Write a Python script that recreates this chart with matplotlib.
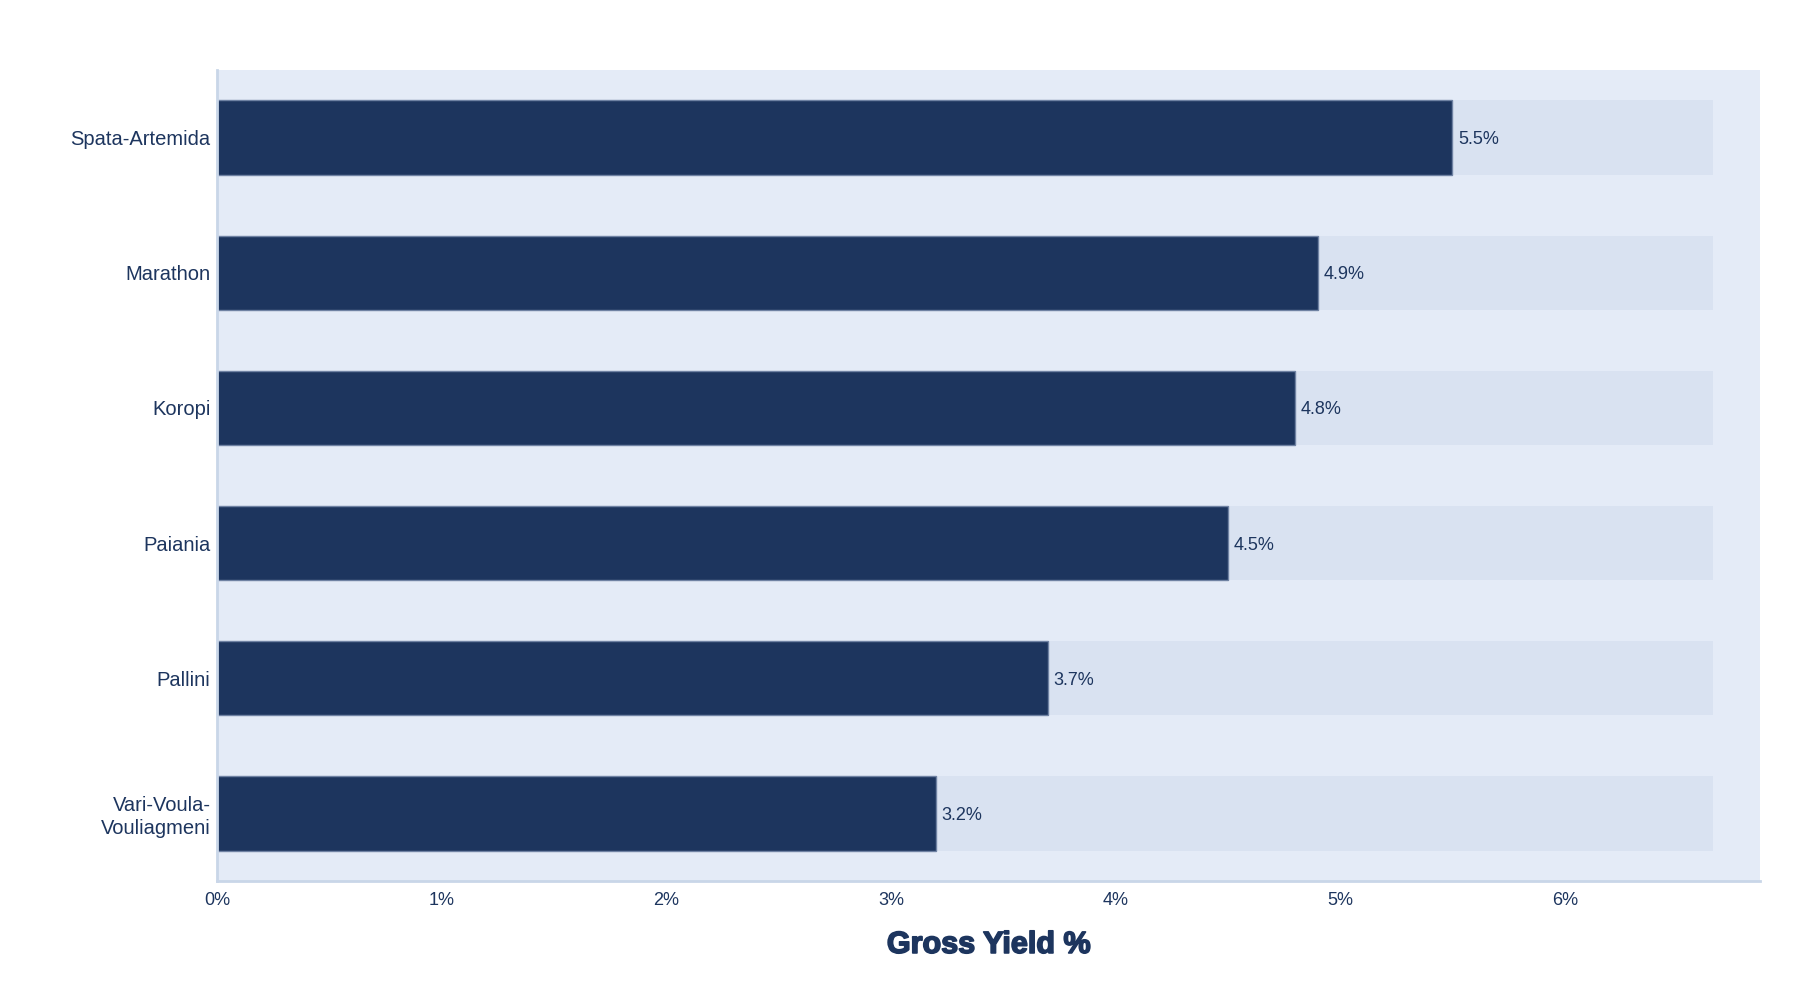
import matplotlib.pyplot as plt
import matplotlib.patheffects as pe

plt.rcParams['font.family'] = ['Liberation Sans', 'DejaVu Sans']

areas = ['Vari-Voula-\nVouliagmeni', 'Pallini', 'Paiania', 'Koropi', 'Marathon', 'Spata-Artemida']
gross_yield = [3.2, 3.7, 4.5, 4.8, 4.9, 5.5]
track_value = 6.66
x_ticks = [0, 1, 2, 3, 4, 5, 6]
x_tick_labels = ['0%', '1%', '2%', '3%', '4%', '5%', '6%']

navy = '#1D355E'
track = '#D9E2F1'
plot_bg = '#E4EBF7'
axis_line = '#C9D6E8'

fig = plt.figure(figsize=(18, 10), dpi=100)
ax = fig.add_axes([0.1208, 0.119, 0.857, 0.811])
ax.set_facecolor(plot_bg)

ypos = list(range(len(areas)))
ax.barh(ypos, [track_value] * len(areas), height=0.55, color=track, edgecolor='none', zorder=1)
ax.barh(ypos, gross_yield, height=0.55, color=navy, edgecolor='#6F82A3', linewidth=1.0, zorder=2)

for y, v in zip(ypos, gross_yield):
    ax.annotate(f'{v}%', xy=(v, y), xytext=(4, 0), textcoords='offset points',
                ha='left', va='center_baseline', fontsize=13, color=navy, zorder=3)

ax.set_xlim(0, 6.87)
ax.set_ylim(-0.5, len(areas) - 0.5)
ax.set_yticks(ypos)
ax.set_yticklabels(areas, fontsize=14.5, color=navy, linespacing=1.25)
ax.set_xticks(x_ticks)
ax.set_xticklabels(x_tick_labels, fontsize=13, color=navy)
ax.tick_params(axis='both', length=0)
ax.tick_params(axis='y', pad=5)
ax.tick_params(axis='x', pad=8)

for side in ['top', 'right']:
    ax.spines[side].set_visible(False)
for side in ['left', 'bottom']:
    ax.spines[side].set_color(axis_line)
    ax.spines[side].set_linewidth(2)

xl = ax.set_xlabel('Gross Yield %', fontsize=22, fontweight='bold', color=navy, labelpad=15)
# thicken the title strokes a little to get closer to the heavy face
xl.set_path_effects([pe.withStroke(linewidth=1.2, foreground=navy)])

fig.savefig('out.png', dpi=100, facecolor='white')
